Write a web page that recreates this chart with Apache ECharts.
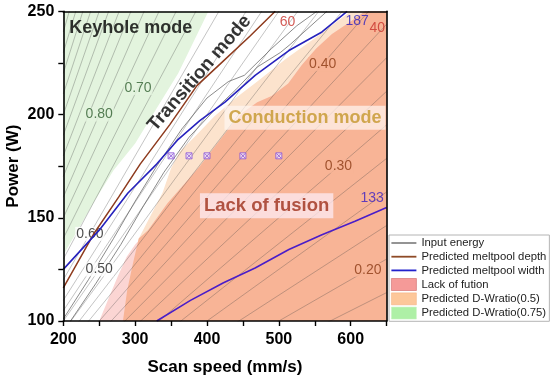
<!DOCTYPE html>
<html><head><meta charset="utf-8">
<script src="https://cdn.jsdelivr.net/npm/echarts@6/dist/echarts.min.js"></script>
<style>html,body{margin:0;padding:0;background:#fff}#c{width:550px;height:381px}</style>
</head><body><div id="c"></div>
<script>
// ---------------- DATA ----------------
const xTickLabels = [200, 300, 400, 500, 600];
const yTickLabels = [100, 150, 200, 250];
// input energy levels (J/mm), lines P = E * v
const energyLevels = [0.175,0.2,0.225,0.25,0.275,0.3,0.325,0.35,0.375,0.4,0.425,0.45,0.475,0.5,0.525,0.55,0.6,0.65,0.7,0.75,0.8,0.85,0.9,0.95,1.0,1.05,1.1,1.15,1.2,1.25];
const energyLabelLevels = [0.8, 0.7, 0.6, 0.5, 0.4, 0.3, 0.2];
// predicted meltpool depth contour (60 um)
const depth60 = [[200,116],[242,142],[277,160],[307,176],[348,195],[386,214],[420,225],[460,238],[495,250]];
// predicted meltpool width contours
const width187 = [[200,125],[250,144],[290,162],[330,176],[360,188],[390,197],[425,206],[467,219],[514,231],[560,240],[595,250]];
const width133 = [[330,100],[377,110],[423,118.5],[467,125.7],[514,134.6],[560,141.8],[606,148.3],[650,155]];
// region boundaries
const dw075Boundary = [[200,132],[220,144],[245,159],[270,173],[300,186],[330,203],[360,220],[402,250]];
const dw05Boundary = [[283,100],[289,115],[297,128],[305,140],[320,150],[338,162],[350,174],[362,182],[385,190],[410,199],[440,208],[470,216],[510,227],[550,237],[600,250],[650,250]];
const lofBoundary = [[250,100],[262,110],[275,121],[288,131],[300,137],[318,144],[345,157],[370,167],[390,175],[410,184],[432,194],[450,201],[470,206],[490,209],[513,215],[532,224],[552,232],[574,239],[600,245],[620,250],[650,250]];
const overlapBoundary = [[283,100],[289,115],[297,128],[305,140],[318,144],[345,157],[370,167],[390,175],[410,184],[432,194],[450,201],[470,206],[490,209],[513,215],[532,224],[552,232],[574,239],[600,245],[620,250],[650,250]];
// darker transition curves
const transitionA = [[210,100],[245,118],[280,137],[312,156],[340,172],[375,189],[410,202],[440,212],[470,223],[502,230],[516,234],[567,250]];
const transitionB = [[200,101],[235,120],[270,140],[300,158],[330,175],[365,193],[400,208],[430,216],[452,219],[490,232],[525,243],[553,250]];
// sample points
const sampleSpeeds = [350, 375, 400, 450, 500];
const samplePower = [180, 180, 180, 180, 180];

// ---------------- LAYOUT / STYLE ----------------
const FONT = '"Liberation Sans", Arial, Helvetica, sans-serif';
const labelSpeedPos = {0.8:250, 0.7:304, 0.6:237, 0.5:250, 0.4:561, 0.3:583, 0.2:624};
function energyLabelStyle(E){
  if (E >= 0.7) return {color:'#2f5f2f', bg:'#e3f4de'};
  if (E >= 0.5) return {color:'#1e1e1e', bg:'#ffffff'};
  return {color:'#8b3a14', bg:'#f8b496'};
}
const C_GREEN = '#e3f4de', C_PEACH = '#fce3cd', C_PINK = '#fbd5d3', C_SALMON = '#f8b496';

function area(name, data, color, origin){
  return {name, type:'line', data, symbol:'none', lineStyle:{width:0}, itemStyle:{color},
    areaStyle:{color, opacity:1, origin}, z:1, silent:true, clip:true};
}
function curve(name, data, color, width, z){
  return {name, type:'line', data, symbol:'none', lineStyle:{color, width}, itemStyle:{color}, z, silent:true, clip:true};
}

const series = [];
series.push(area('Predicted D-Wratio(0.75)', dw075Boundary, C_GREEN, 'end'));
series.push(area('Predicted D-Wratio(0.5)', dw05Boundary, C_PEACH, 'start'));
series.push(area('Lack of fution', lofBoundary, C_PINK, 'start'));
series.push(area('overlap', overlapBoundary, C_SALMON, 'start'));
energyLevels.forEach(E => {
  series.push(curve('Input energy', [[200, E*200], [650, E*650]], 'rgba(70,70,70,0.4)', 0.8, 2));
});
series.push(curve('Input energy', transitionA, 'rgba(100,100,100,0.75)', 1.0, 2));
series.push(curve('Input energy', transitionB, 'rgba(100,100,100,0.75)', 1.0, 2));
// energy labels
series.push({
  type:'scatter', name:'elabels', symbolSize:0.1, itemStyle:{color:'transparent'}, z:3, silent:true,
  data: energyLabelLevels.map(E => {
    const v = labelSpeedPos[E]; const st = energyLabelStyle(E);
    return {name:E.toFixed(2), value:[v, E*v], label:{color:st.color, backgroundColor:st.bg}};
  }),
  label:{show:true, position:'inside', formatter:'{b}', fontSize:14, fontFamily:FONT, padding:[0,1]}
});
series.push(curve('Predicted meltpool depth', depth60, '#8e3b1e', 1.5, 4));
series.push(curve('Predicted meltpool width', width187, '#2622bd', 1.6, 4));
series.push(curve('Predicted meltpool width', width133, '#4a1ec8', 1.6, 4));
series.push({
  type:'scatter', name:'samples', z:5, silent:true,
  data: sampleSpeeds.map((v,i)=>[v, samplePower[i]]),
  symbol:'path://M0,0L10,0L10,10L0,10ZM1,1L9,9M9,1L1,9', symbolSize:6,
  itemStyle:{color:'#efe4fb', borderColor:'#8a52d6', borderWidth:1}
});
// text annotations
const T = (name, v, p, lab) => ({name, value:[v,p], label:lab});
series.push({
  type:'scatter', name:'annot', symbolSize:0.1, itemStyle:{color:'transparent'}, z:6, silent:true,
  label:{show:true, position:'inside', formatter:'{b}', fontFamily:FONT},
  data:[
    T('Keyhole mode', 294, 242, {fontSize:18, fontWeight:'bold', color:'#000'}),
    T('Transition mode', 389.6, 220, {fontSize:19, fontWeight:'bold', color:'#000', rotate:49}),
    T('Conduction mode', 536.4, 198.4, {fontSize:18, fontWeight:'bold', color:'#c4962a', backgroundColor:'rgba(255,246,242,0.88)', padding:[3,4]}),
    T('Lack of fusion', 483, 155.8, {fontSize:18.5, fontWeight:'bold', color:'#9e2f1a', backgroundColor:'rgba(253,234,242,0.95)', padding:[3,4]}),
    T('60', 512, 244.7, {fontSize:14, color:'#c8322c'}),
    T('40', 637, 241.8, {fontSize:14, color:'#c8322c'}),
    T('187', 609, 245.2, {fontSize:14, color:'#2a1fbf'}),
    T('133', 630, 159.7, {fontSize:14, color:'#3a1fc4'})
  ]
});

const axisCommon = {
  type:'value', splitLine:{show:false}, z:10,
  axisLine:{onZero:false, lineStyle:{color:'#000', width:1.6}},
};
const option = {
  animation:false,
  backgroundColor:'#fff',
  textStyle:{fontFamily:FONT},
  grid:{left:63.3, right:163.4, top:11.3, bottom:60, containLabel:false, outerBoundsMode:'none'},
  legend:{
    orient:'vertical', left:389, top:235, itemWidth:25, itemHeight:12, itemGap:1.7,
    padding:[2,3,2,2], borderColor:'#b4b4b4', borderWidth:1, backgroundColor:'#fff',
    selectedMode:false,
    textStyle:{fontSize:11.3, color:'#222', fontFamily:FONT, lineHeight:12},
    data:[
      {name:'Input energy', icon:'path://M0,0H25V1.6H0Z', itemStyle:{color:'#7a7a7a', borderWidth:0}},
      {name:'Predicted meltpool depth', icon:'path://M0,0H25V1.8H0Z', itemStyle:{color:'#8e4a26', borderWidth:0}},
      {name:'Predicted meltpool width', icon:'path://M0,0H25V1.8H0Z', itemStyle:{color:'#2222cc', borderWidth:0}},
      {name:'Lack of fution', icon:'rect', itemStyle:{color:'#f59a98', borderColor:'#d98080', borderWidth:0.8}},
      {name:'Predicted D-Wratio(0.5)', icon:'rect', itemStyle:{color:'#fdc79a', borderColor:'#f3b07e', borderWidth:0.5}},
      {name:'Predicted D-Wratio(0.75)', icon:'rect', itemStyle:{color:'#aef0a6', borderColor:'#c8f2c2', borderWidth:0.5}}
    ]
  },
  xAxis:[
    Object.assign({}, axisCommon, {
      min:200, max:650, interval:50, position:'bottom',
      axisTick:{length:5, lineStyle:{color:'#000', width:1.4}},
      axisLabel:{formatter:v => xTickLabels.includes(v) ? String(v) : '', fontSize:16, fontWeight:'bold', color:'#000', margin:11, fontFamily:FONT},
      name:'Scan speed (mm/s)', nameLocation:'middle', nameGap:38, nameMoveOverlap:false,
      nameTextStyle:{fontSize:17, fontWeight:'bold', color:'#000', fontFamily:FONT}
    }),
    Object.assign({}, axisCommon, {min:200, max:650, position:'top', axisTick:{show:false}, axisLabel:{show:false}})
  ],
  yAxis:[
    Object.assign({}, axisCommon, {
      min:100, max:250, interval:25, position:'left',
      axisTick:{length:5, lineStyle:{color:'#000', width:1.4}},
      axisLabel:{formatter:v => yTickLabels.includes(v) ? String(v) : '', fontSize:16, fontWeight:'bold', color:'#000', margin:9, fontFamily:FONT},
      name:'Power (W)', nameLocation:'middle', nameGap:41, nameRotate:90, nameMoveOverlap:false,
      nameTextStyle:{fontSize:17, fontWeight:'bold', color:'#000', fontFamily:FONT}
    }),
    Object.assign({}, axisCommon, {min:100, max:250, position:'right', axisTick:{show:false}, axisLabel:{show:false}})
  ],
  series
};
const chart = echarts.init(document.getElementById('c'));
chart.setOption(option);
</script></body></html>
